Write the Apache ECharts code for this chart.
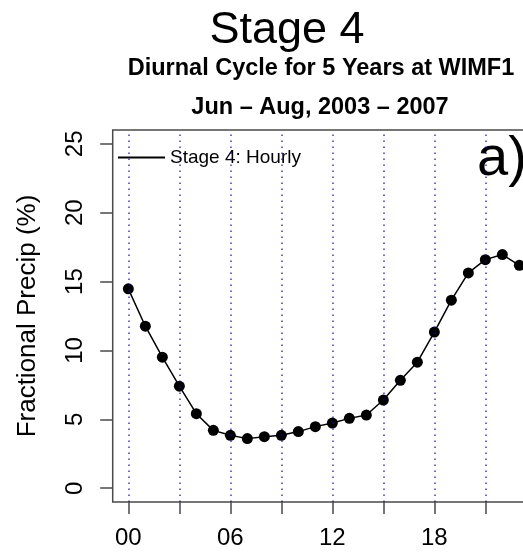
<!DOCTYPE html>
<html>
<head>
<meta charset="utf-8">
<script src="https://cdn.jsdelivr.net/npm/echarts@6/dist/echarts.min.js"></script>
<style>
    html, body {margin:0;padding:0;background:#ffffff;overflow:hidden;}
    /* the original figure is cropped on the right, so the chart is a bit wider than the window */
    #diurnal-chart {width:540px;height:553px;}
</style>
</head>
<body>
<div id="diurnal-chart"></div>
<script>
    // hour of day and hourly fractional precip (%), Stage 4 at WIMF1
    var hours = [0, 1, 2, 3, 4, 5, 6, 7, 8, 9, 10, 11, 12, 13, 14, 15, 16, 17, 18, 19, 20, 21, 22, 23];
    var hourlyPrecip = [14.47, 11.76, 9.51, 7.41, 5.41, 4.20, 3.84, 3.60, 3.74, 3.84, 4.11, 4.47,
                        4.73, 5.07, 5.31, 6.40, 7.83, 9.15, 11.33, 13.65, 15.63, 16.59, 16.96, 16.18];

    // axis ticks / labels
    var xTickHours = [0, 3, 6, 9, 12, 15, 18, 21];
    var xLabelHours = [0, 6, 12, 18];
    var yTickValues = [0, 5, 10, 15, 20, 25];

    var seriesName = 'Stage 4: Hourly';
    var fontName = '"Liberation Sans", Arial, Helvetica, sans-serif';

    var chart = echarts.init(document.getElementById('diurnal-chart'), null, {renderer: 'canvas'});

    var points = hours.map(function (h, i) {
        return [h, hourlyPrecip[i]];
    });

    var option = {
        animation: false,
        backgroundColor: '#ffffff',
        title: [
            {
                text: 'Stage 4',
                left: 287,
                top: 8,
                padding: 0,
                textAlign: 'center',
                textStyle: {fontSize: 45, fontWeight: 'normal', fontFamily: fontName, color: '#000'}
            },
            {
                text: 'Diurnal Cycle for 5 Years at WIMF1',
                left: 321,
                top: 57,
                padding: 0,
                textAlign: 'center',
                textStyle: {fontSize: 23.5, fontWeight: 'bold', fontFamily: fontName, color: '#000'}
            },
            {
                text: 'Jun \u2013 Aug, 2003 \u2013 2007',
                left: 320,
                top: 96,
                padding: 0,
                textAlign: 'center',
                textStyle: {fontSize: 23.5, fontWeight: 'bold', fontFamily: fontName, color: '#000'}
            }
        ],
        legend: {
            data: [seriesName],
            left: 118,
            top: 148,
            padding: 0,
            icon: 'rect',
            itemWidth: 47,
            itemHeight: 2,
            selectedMode: false,
            textStyle: {fontSize: 19, fontFamily: fontName, color: '#000'}
        },
        // plot box right side falls outside the visible 523px
        grid: {
            left: 112.7,
            top: 130,
            width: 422.3,
            height: 372,
            show: true,
            borderColor: '#4a4a4a',
            borderWidth: 1.5,
            backgroundColor: 'transparent'
        },
        xAxis: {
            type: 'value',
            min: -0.92,
            max: 23.92,
            axisLine: {show: false, onZero: false},
            splitLine: {show: false},
            axisTick: {
                show: true,
                length: 12,
                customValues: xTickHours,
                lineStyle: {color: '#4a4a4a', width: 1.5}
            },
            axisLabel: {
                customValues: xLabelHours,
                margin: 24,
                fontSize: 24,
                fontFamily: fontName,
                color: '#000',
                formatter: function (v) {
                    return (v < 10 ? '0' : '') + v;
                }
            }
        },
        yAxis: {
            type: 'value',
            min: -1,
            max: 26,
            name: 'Fractional Precip (%)',
            nameLocation: 'middle',
            nameGap: 72,
            nameTextStyle: {fontSize: 26, fontFamily: fontName, color: '#000'},
            axisLine: {show: false, onZero: false},
            splitLine: {show: false},
            axisTick: {
                show: true,
                length: 12.5,
                customValues: yTickValues,
                lineStyle: {color: '#4a4a4a', width: 1.5}
            },
            axisLabel: {
                customValues: yTickValues,
                rotate: 90,
                margin: 25,
                fontSize: 24,
                fontFamily: fontName,
                color: '#000'
            }
        },
        graphic: [
            {
                type: 'text',
                x: 477,
                y: 160,
                silent: true,
                style: {
                    text: 'a)',
                    fontSize: 56,
                    fontFamily: fontName,
                    fill: '#000',
                    align: 'left',
                    verticalAlign: 'middle'
                }
            }
        ],
        series: [
            {
                name: seriesName,
                type: 'line',
                data: points,
                symbol: 'circle',
                symbolSize: 11,
                itemStyle: {color: '#000'},
                lineStyle: {color: '#000', width: 1.5},
                markLine: {
                    silent: true,
                    symbol: 'none',
                    label: {show: false},
                    lineStyle: {color: '#0000ff', width: 1.5, opacity: 0.8, type: [1.5, 4.5]},
                    data: xTickHours.map(function (h) {
                        return {xAxis: h};
                    })
                }
            }
        ]
    };

    chart.setOption(option);
</script>
</body>
</html>
